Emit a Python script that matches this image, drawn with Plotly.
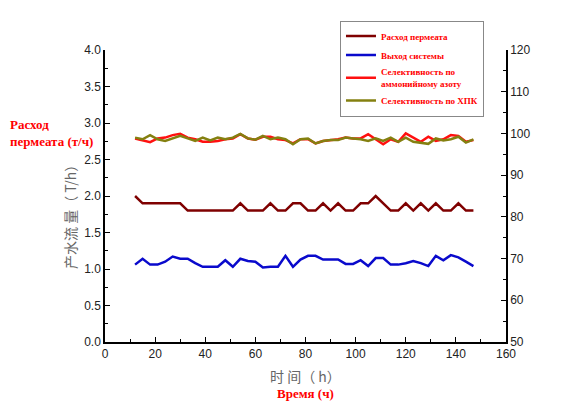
import plotly.graph_objects as go

# Time axis (hours), sampled every 3 h
hours = list(range(12, 148, 3))

# Left axis: flows (t/h)
permeate_flow = [2.0, 1.9, 1.9, 1.9, 1.9, 1.9, 1.9, 1.8, 1.8, 1.8,
                 1.8, 1.8, 1.8, 1.8, 1.9, 1.8, 1.8, 1.8, 1.9, 1.8,
                 1.8, 1.9, 1.9, 1.8, 1.8, 1.9, 1.8, 1.9, 1.8, 1.8,
                 1.9, 1.9, 2.0, 1.9, 1.8, 1.8, 1.9, 1.8, 1.9, 1.8,
                 1.9, 1.8, 1.8, 1.9, 1.8, 1.8]
system_output = [1.06, 1.14, 1.06, 1.06, 1.10, 1.17, 1.14, 1.14, 1.08, 1.03,
                 1.03, 1.03, 1.12, 1.03, 1.14, 1.11, 1.10, 1.02, 1.03, 1.03,
                 1.18, 1.03, 1.13, 1.18, 1.18, 1.13, 1.13, 1.13, 1.07, 1.07,
                 1.12, 1.04, 1.15, 1.15, 1.06, 1.06, 1.08, 1.11, 1.08, 1.04,
                 1.18, 1.12, 1.19, 1.16, 1.10, 1.04]

# Right axis: selectivity (%)
ammonium_sel = [98.8, 98.3, 97.9, 98.8, 99.0, 99.6, 99.9, 99.0, 98.6, 98.0,
                98.0, 98.2, 98.6, 98.8, 99.8, 98.8, 98.5, 99.2, 99.2, 98.6,
                98.4, 97.6, 98.6, 98.6, 97.6, 98.2, 98.4, 98.6, 99.0, 98.8,
                98.8, 99.8, 98.6, 97.4, 98.6, 98.0, 100.0, 99.0, 98.0, 99.2,
                98.2, 98.6, 99.6, 99.4, 98.0, 98.4]
cod_sel = [99.0, 98.6, 99.6, 98.6, 98.2, 98.8, 99.4, 98.8, 98.2, 99.0,
           98.3, 99.0, 98.6, 99.0, 99.9, 98.8, 98.5, 99.4, 98.6, 99.0,
           98.6, 97.4, 98.6, 98.8, 97.6, 98.2, 98.4, 98.4, 99.0, 98.8,
           98.6, 98.2, 98.8, 98.2, 99.0, 98.0, 99.0, 98.0, 97.8, 97.5,
           98.8, 98.3, 98.6, 99.2, 97.8, 98.6]

x_ticks = list(range(0, 161, 20))
y_ticks = [0.0, 0.5, 1.0, 1.5, 2.0, 2.5, 3.0, 3.5, 4.0]
y2_ticks = list(range(50, 121, 10))

tick_font = dict(family='Liberation Sans', size=12, color='#222222')

fig = go.Figure()

fig.add_trace(go.Scatter(x=hours, y=permeate_flow, mode='lines',
                         name='<b>Расход пермеата</b>',
                         line=dict(color='#7F0000', width=2.5)))
fig.add_trace(go.Scatter(x=hours, y=system_output, mode='lines',
                         name='<b>Выход системы</b>',
                         line=dict(color='#0A0ACC', width=2.5)))
fig.add_trace(go.Scatter(x=hours, y=ammonium_sel, mode='lines',
                         name='<b>Селективность по<br>аммонийному азоту</b>',
                         line=dict(color='#FF1010', width=2.5), yaxis='y2'))
fig.add_trace(go.Scatter(x=hours, y=cod_sel, mode='lines',
                         name='<b>Селективность по ХПК</b>',
                         line=dict(color='#848010', width=2.5), yaxis='y2'))

axis_common = dict(showline=True, linecolor='black', linewidth=1.5,
                   ticks='inside', ticklen=5, tickcolor='black',
                   showgrid=False, zeroline=False, tickfont=tick_font)

# the page body adds an 8 px offset, so the figure is sized 8 px smaller
fig.update_layout(
    width=580, height=402,
    margin=dict(l=97, r=82, t=38, b=68),
    paper_bgcolor='white', plot_bgcolor='white',
    xaxis=dict(range=[0, 160], tickvals=x_ticks,
               minor=dict(ticks='inside', ticklen=3, dtick=10, tickcolor='black'),
               **axis_common),
    yaxis=dict(range=[0, 4], tickvals=y_ticks, tickformat='.1f',
               minor=dict(ticks='inside', ticklen=3, dtick=0.25, tickcolor='black'),
               **axis_common),
    yaxis2=dict(range=[50, 120], tickvals=y2_ticks, overlaying='y', side='right',
                minor=dict(ticks='inside', ticklen=3, dtick=5, tickcolor='black'),
                **axis_common),
    legend=dict(x=0.586, y=1.101, xanchor='left', yanchor='top',
                bgcolor='white', bordercolor='#888888', borderwidth=1,
                font=dict(family='Liberation Serif', size=9, color='#FF0000'),
                itemwidth=30),
    showlegend=True,
)

# axis titles (Chinese originals, grey) and Russian captions (red, bold)
fig.add_annotation(text='时 间（ h）', xref='paper', yref='paper',
                   x=0.5, y=-0.118, xanchor='center', yanchor='middle', showarrow=False,
                   font=dict(family='Noto Sans CJK SC', size=14, color='#666666'))
fig.add_annotation(text='<b>Время (ч)</b>', xref='paper', yref='paper',
                   x=0.5, y=-0.176, xanchor='center', yanchor='middle', showarrow=False,
                   font=dict(family='Liberation Serif', size=13, color='#FF0000'))
fig.add_annotation(text='产水流 量（ T/h）', xref='paper', yref='paper',
                   x=-0.087, y=0.439, xanchor='center', yanchor='middle',
                   textangle=-90, showarrow=False,
                   font=dict(family='Noto Sans CJK SC', size=14, color='#666666'))
fig.add_annotation(text='<b>Расход<br>пермеата (т/ч)</b>', xref='paper', yref='paper',
                   x=-0.242, y=0.716, xanchor='left', yanchor='middle', align='left',
                   showarrow=False,
                   font=dict(family='Liberation Serif', size=13, color='#FF0000'))

fig.write_html('out.html')
